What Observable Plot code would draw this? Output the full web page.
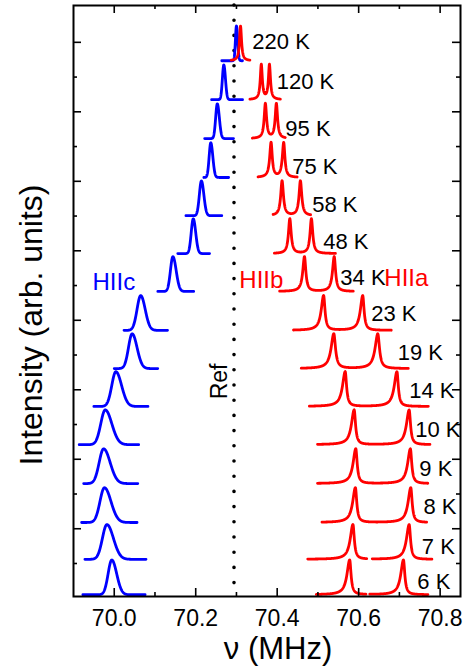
<!DOCTYPE html>
<html>
<head>
<meta charset="utf-8">
<script src="https://cdn.jsdelivr.net/npm/d3@7"></script>
<script src="https://cdn.jsdelivr.net/npm/@observablehq/plot@0.6"></script>
<style>
  body { margin: 0; background: #fff; }
</style>
</head>
<body>
<div id="chart"></div>
<script>
// NMR spectra of the three proton sites, stacked by temperature (bottom = 6 K).
const temps = ["6 K", "7 K", "8 K", "9 K", "10 K", "14 K", "19 K", "23 K", "34 K", "48 K", "58 K", "75 K", "95 K", "120 K", "220 K"];
// vertical offset of each trace (arb. units)
const baseline = [0.10, 1.12, 2.18, 3.30, 4.42, 5.52, 6.61, 7.71, 8.83, 9.92, 11.01, 12.11, 13.23, 14.35, 15.47];

// HIIc line (MHz): centre, left/right Gaussian widths, recorded sweep range
const hiicCenter = [69.994, 69.982, 69.976, 69.974, 69.978, 70.004, 70.044, 70.065, 70.144, 70.194, 70.214, 70.237, 70.253, 70.269, 70.300];
const hiicWidthL = [0.009, 0.011, 0.011, 0.011, 0.011, 0.010, 0.009, 0.009, 0.006, 0.005, 0.005, 0.004, 0.004, 0.0035, 0.0025];
const hiicWidthR = [0.012, 0.016, 0.016, 0.016, 0.016, 0.014, 0.012, 0.011, 0.008, 0.006, 0.006, 0.005, 0.005, 0.004, 0.003];
const hiicFrom = [69.923, 69.928, 69.920, 69.925, 69.914, 69.950, 70.000, 70.024, 70.107, 70.156, 70.176, 70.220, 70.222, 70.239, 70.264];
const hiicTo   = [70.076, 70.078, 70.056, 70.058, 70.060, 70.083, 70.107, 70.131, 70.195, 70.234, 70.264, 70.281, 70.293, 70.315, 70.315];

// HIIb / HIIa lines (MHz): centres, left/right Lorentzian half-widths, sweep range
const hiibCenter = [70.578, 70.586, 70.592, 70.593, 70.589, 70.567, 70.539, 70.514, 70.467, 70.431, 70.412, 70.385, 70.371, 70.361, 70.310];
const hiiaCenter = [70.710, 70.724, 70.728, 70.727, 70.724, 70.694, 70.647, 70.610, 70.540, 70.484, 70.457, 70.416, 70.398, 70.381, null];
const hiiWidthL = [0.008, 0.008, 0.008, 0.008, 0.008, 0.008, 0.008, 0.007, 0.005, 0.004, 0.004, 0.004, 0.0035, 0.003, 0.003];
const hiiWidthR = [0.004, 0.004, 0.004, 0.004, 0.004, 0.004, 0.005, 0.004, 0.004, 0.004, 0.004, 0.0035, 0.0035, 0.003, 0.003];
const hiiFrom = [70.496, 70.475, 70.510, 70.499, 70.499, 70.479, 70.459, 70.440, 70.406, 70.393, 70.390, 70.353, 70.339, 70.333, 70.287];
const hiiTo   = [70.770, 70.780, 70.767, 70.770, 70.775, 70.771, 70.722, 70.680, 70.587, 70.543, 70.482, 70.449, 70.420, 70.408, 70.333];
// the two sweeps at 6 K and 7 K were recorded separately and leave a gap
const hiiGapFrom = [70.618, 70.620, null, null, null, null, null, null, null, null, null, null, null, null, null];
const hiiGapTo   = [70.627, 70.633, null, null, null, null, null, null, null, null, null, null, null, null, null];

// reference frequency (MHz)
const refFreq = 70.294;

// axis ticks
const xMajor = [70.0, 70.2, 70.4, 70.6, 70.8];
const xMinor = [70.1, 70.3, 70.5, 70.7];
const yMajor = [2, 4, 6, 8, 10, 12, 14, 16];
const yMinor = [1, 3, 5, 7, 9, 11, 13, 15];

// label placement (MHz, arb. units)
const tempLabelX = [70.744, 70.755, 70.759, 70.749, 70.739, 70.724, 70.696, 70.631, 70.555, 70.513, 70.486, 70.437, 70.420, 70.399, 70.339];
const tempLabelY = [0.46, 1.47, 2.62, 3.71, 4.85, 5.96, 7.05, 8.19, 9.21, 10.25, 11.33, 12.40, 13.52, 14.87, 16.0];
const siteNames = ["HIIc", "HIIb", "HIIa"];
const siteLabelX = [69.999, 70.361, 70.717];
const siteLabelY = [9.09, 9.14, 9.21];

// line shapes
const gaussSplit = (x, c, wl, wr) => { const w = x < c ? wl : wr; return Math.exp(-0.5 * ((x - c) / w) ** 2); };
const lorentzSplit = (x, c, gl, gr) => { const g = x < c ? gl : gr; return 1 / (1 + ((x - c) / g) ** 2); };

const step = 0.0004;
const blueTraces = [];
const redTraces = [];
temps.forEach((t, i) => {
  for (let x = hiicFrom[i]; x <= hiicTo[i] + 1e-9; x += step) {
    blueTraces.push({t, x, y: baseline[i] + gaussSplit(x, hiicCenter[i], hiicWidthL[i], hiicWidthR[i])});
  }
  for (let x = hiiFrom[i]; x <= hiiTo[i] + 1e-9; x += step) {
    const g0 = hiiGapFrom[i], g1 = hiiGapTo[i];
    if (g0 != null && x > g0 && x < g1) continue;
    let v = lorentzSplit(x, hiibCenter[i], hiiWidthL[i], hiiWidthR[i]);
    if (hiiaCenter[i] != null) v += lorentzSplit(x, hiiaCenter[i], hiiWidthL[i], hiiWidthR[i]);
    const seg = t + (g0 != null && x >= g1 ? "-a" : "-b");
    redTraces.push({t, seg, x, y: baseline[i] + v});
  }
});

const W = 470, H = 666;
const mL = 73, mR = 10, mT = 5, mB = 70;
const frameW = W - mL - mR, frameH = H - mT - mB;
const font = "'Liberation Sans', Arial, sans-serif";

const chart = Plot.plot({
  width: W,
  height: H,
  marginLeft: mL,
  marginRight: mR,
  marginTop: mT,
  marginBottom: mB,
  style: {fontFamily: font, background: "white", color: "black"},
  x: {domain: [69.9, 70.85]},
  y: {domain: [0.05, 17.06], axis: null},
  marks: [
    // dotted reference line
    Plot.ruleX([refFreq], {x: d => d, stroke: "black", strokeWidth: 3.6, strokeLinecap: "round", strokeDasharray: "0 15.2"}),
    Plot.line(blueTraces, {x: "x", y: "y", z: "t", stroke: "#0000ff", strokeWidth: 2.8}),
    Plot.line(redTraces, {x: "x", y: "y", z: "seg", stroke: "#ff0000", strokeWidth: 2.8}),
    // inward ticks on all four sides
    Plot.tickX(xMajor, {x: d => d, insetTop: frameH - 8, stroke: "black", strokeWidth: 1.6}),
    Plot.tickX(xMinor, {x: d => d, insetTop: frameH - 4, stroke: "black", strokeWidth: 1.6}),
    Plot.tickX(xMajor, {x: d => d, insetBottom: frameH - 8, stroke: "black", strokeWidth: 1.6}),
    Plot.tickX(xMinor, {x: d => d, insetBottom: frameH - 4, stroke: "black", strokeWidth: 1.6}),
    Plot.tickY(yMajor, {y: d => d, insetRight: frameW - 8, stroke: "black", strokeWidth: 1.6}),
    Plot.tickY(yMinor, {y: d => d, insetRight: frameW - 4, stroke: "black", strokeWidth: 1.6}),
    Plot.tickY(yMajor, {y: d => d, insetLeft: frameW - 8, stroke: "black", strokeWidth: 1.6}),
    Plot.tickY(yMinor, {y: d => d, insetLeft: frameW - 4, stroke: "black", strokeWidth: 1.6}),
    Plot.axisX(xMajor, {anchor: "bottom", tickSize: 0, tickPadding: 13, tickFormat: d => d.toFixed(1), fontSize: 23, label: null}),
    Plot.frame({stroke: "black", strokeWidth: 2}),
    // temperature labels
    Plot.text(temps, {x: (d, i) => tempLabelX[i], y: (d, i) => tempLabelY[i], text: d => d, textAnchor: "start", fontSize: 22, fill: "black"}),
    // site labels
    Plot.text(siteNames, {x: (d, i) => siteLabelX[i], y: (d, i) => siteLabelY[i], text: d => d, fontSize: 24,
      fill: d => d === "HIIc" ? "#0000ff" : "#ff0000"}),
    Plot.text(["Ref"], {x: refFreq, y: 6.24, dx: -14, rotate: -90, textAnchor: "middle", fontSize: 23, fill: "black"}),
    // axis titles
    Plot.text(["Intensity (arb. units)"], {frameAnchor: "left", dx: -42, dy: 24, rotate: -90, textAnchor: "middle", fontSize: 32, fill: "black"}),
    Plot.text(["ν (MHz)"], {frameAnchor: "bottom", dx: 11, dy: 40, lineAnchor: "top", textAnchor: "middle", fontSize: 31, fill: "black"})
  ]
});

document.getElementById("chart").appendChild(chart);
</script>
</body>
</html>
